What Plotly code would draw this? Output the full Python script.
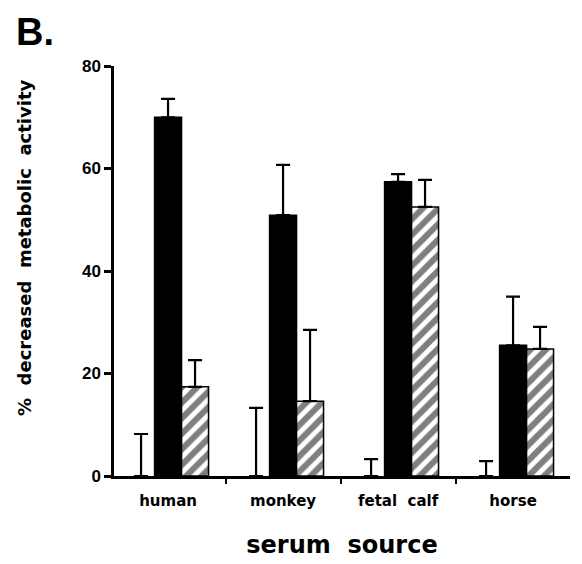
import plotly.graph_objects as go

categories = ["human", "monkey", "fetal  calf", "horse"]
positions = [0, 1, 2, 3]

control_vals = [0, 0, 0, 0]
control_err = [8.2, 13.3, 3.3, 2.9]

solid_vals = [70.0, 50.9, 57.4, 25.5]
solid_err = [3.6, 9.8, 1.5, 9.5]

hatched_vals = [17.4, 14.6, 52.5, 24.8]
hatched_err = [5.2, 13.9, 5.3, 4.3]

y_ticks = [0, 20, 40, 60, 80]

fig = go.Figure()

def err(arr):
    return dict(type="data", symmetric=False, array=arr, arrayminus=[0] * len(arr),
                color="black", thickness=2.2, width=7)

fig.add_trace(go.Bar(x=positions, y=control_vals, marker=dict(color="white", line=dict(width=0)),
                     error_y=err(control_err), name="control"))
fig.add_trace(go.Bar(x=positions, y=solid_vals, marker=dict(color="black", line=dict(color="black", width=1.5)),
                     error_y=err(solid_err), name="solid"))
fig.add_trace(go.Bar(x=positions, y=hatched_vals,
                     marker=dict(color="white", line=dict(color="black", width=1.5),
                                 pattern=dict(shape="/", fgcolor="black", bgcolor="white", size=11, solidity=0.55)),
                     error_y=err(hatched_err), name="hatched"))

lib = dict(family="Liberation Sans, Arial, sans-serif", color="black", weight="bold")
dv = dict(family="DejaVu Sans, sans-serif", color="black", weight="bold")

L, T, PW, PH = 106, 58, 456, 410

fig.update_layout(
    width=574, height=556,
    margin=dict(l=L, r=574 - L - PW, t=T, b=556 - T - PH),
    plot_bgcolor="white", paper_bgcolor="white",
    barmode="group", bargap=0.296, bargroupgap=0,
    showlegend=False,
    xaxis=dict(
        automargin=False,
        range=[-0.47, 3.495], tickvals=positions, ticktext=categories,
        showline=True, linecolor="black", linewidth=2.5, mirror=False,
        ticks="outside", ticklen=9, tickcolor="rgba(0,0,0,0)",
        tickfont=dict(size=15, **dv), showgrid=False, zeroline=False,
        minor=dict(tickvals=[0.5, 1.5, 2.5], ticks="outside", ticklen=5, tickwidth=2, tickcolor="black"),
        title=dict(text="serum  source", font=dict(size=24, **dv), standoff=28),
    ),
    yaxis=dict(
        automargin=False,
        range=[0, 80], tickvals=y_ticks,
        showline=True, linecolor="black", linewidth=2.5,
        ticks="outside", ticklen=7, tickwidth=2.5, tickcolor="black",
        tickfont=dict(size=17, **lib), showgrid=False, zeroline=False,
    ),
    annotations=[
        dict(text="B.", xref="paper", yref="paper", x=(6 - L) / PW, y=(T + PH - 1) / PH,
             xanchor="left", yanchor="top", showarrow=False,
             font=dict(size=38, **lib)),
        dict(text="%  decreased  metabolic  activity", xref="paper", yref="paper",
             x=(17 - L) / PW, y=(T + PH - 240) / PH, textangle=-90,
             xanchor="center", yanchor="middle", showarrow=False,
             font=dict(size=18, **dv)),
    ],
)

fig.write_html("out.html")
